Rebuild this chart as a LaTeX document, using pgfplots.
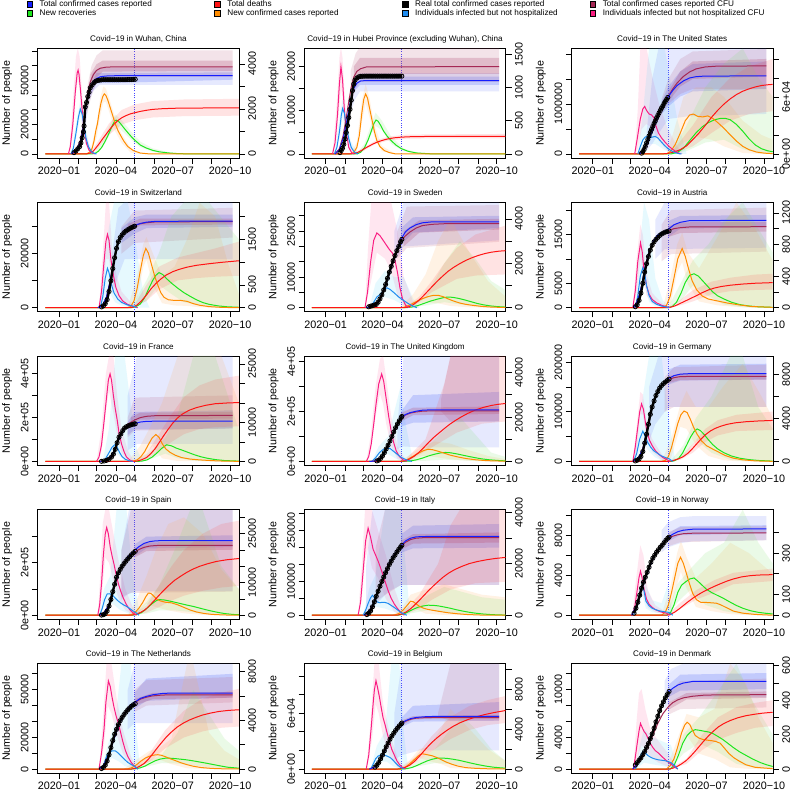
\documentclass[border=0pt]{standalone}
\usepackage{pgfplots}
\pgfplotsset{compat=1.18}
\usepackage{fontspec}
\setmainfont{Liberation Sans}
\newcommand\tickfont{\fontsize{10.8bp}{12bp}\selectfont}
\newcommand\titlefont{\fontsize{8.1bp}{9bp}\selectfont}
\newcommand\labfont{\fontsize{10.7bp}{12bp}\selectfont}
\newcommand\legfont{\fontsize{8.2bp}{9bp}\selectfont}
\definecolor{blueL}{RGB}{20,30,255}
\definecolor{maroonL}{RGB}{165,40,85}
\definecolor{pinkL}{RGB}{250,30,130}
\definecolor{cyanL}{RGB}{30,140,240}
\definecolor{greenL}{RGB}{30,230,30}
\definecolor{orangeL}{RGB}{255,140,0}
\definecolor{redL}{RGB}{255,20,20}
\definecolor{blueB}{RGB}{90,110,250}
\definecolor{maroonB}{RGB}{175,70,110}
\definecolor{pinkB}{RGB}{255,90,160}
\definecolor{cyanB}{RGB}{90,215,250}
\definecolor{orangeB}{RGB}{255,170,80}
\definecolor{greenB}{RGB}{120,225,100}
\definecolor{redB}{RGB}{255,70,70}
\definecolor{dotB}{RGB}{70,70,255}
\pgfplotsset{
 every axis title/.style={at={(0.5,1)}, anchor=base, yshift=6.8bp, font=\titlefont},
 pbase/.style={scale only axis, width=201.5bp, height=109.5bp, xmin=-34.2, xmax=288.5, anchor=south west},
 lft/.style={pbase, scaled y ticks=false, axis line style={line width=0.75bp}, tick style={line width=0.75bp, black}, tick align=outside, major tick length=5.7bp,
  xtick pos=left, ytick pos=left, xtick={0,31,60,91,121,152,182,213,244,274},
  xticklabels={2020−01,,,2020−04,,,2020−07,,,2020−10}, xticklabel style={font=\tickfont},
  yticklabel style={font=\tickfont, rotate=90, anchor=south},
  ylabel={Number of people}, ylabel style={font=\labfont, at={(axis description cs:-0.152,0.5)}, anchor=center},
  extra x ticks={121}, extra x tick labels={}, extra x tick style={grid=major, major tick length=0pt, major grid style={draw=dotB, dash pattern=on 0.8bp off 1.5bp, line width=0.7bp}}},
 rgt/.style={pbase, scaled y ticks=false, axis x line=none, axis y line*=right, axis line style={line width=0.75bp}, tick style={line width=0.75bp, black}, tick align=outside, major tick length=5.7bp,
  yticklabel style={font=\tickfont, rotate=90, anchor=north}},
 ovl/.style={pbase, hide axis},
 bnd/.style={draw=none, fill=#1, fill opacity=0.15, forget plot},
 bndd/.style={draw=none, fill=#1, fill opacity=0.25, forget plot},
 ln/.style={draw=#1, line width=1bp, mark=none, forget plot},
 blk/.style={draw=black, line width=2.4bp, mark=o, mark size=2.1bp, mark options={line width=0.8bp, solid}, forget plot},
 sq/.style={legend image code/.code={\draw[fill=#1, draw=black, line width=0.4bp] (0bp,-2.85bp) rectangle (5.7bp,2.85bp);}},
}
\newcommand\lent[1]{\addlegendentry{\makebox[181.6bp][l]{\hspace{7bp}#1}}}
\begin{document}
\begin{tikzpicture}
\useasboundingbox (0,0) rectangle (792bp,792bp);
\fill[white] (0,0) rectangle (792bp,792bp);
% ===== P1 Wuhan
\begin{axis}[lft, at={(37.7bp,634bp)}, title={Covid−19 in Wuhan, China}, ymin=-2762, ymax=71730, ytick={0,10000,...,70000}, yticklabels={0,,20000,,,50000,,},
 legend columns=4, legend cell align=left,
 legend style={at={(axis description cs:-0.056,1.44)}, anchor=north west, draw=none, fill=none, inner sep=0pt, row sep=1.2bp, nodes={inner sep=0pt, font=\legfont}}]
\addlegendimage{sq=blueL}\lent{Total confirmed cases reported}
\addlegendimage{sq=redL}\lent{Total deaths}
\addlegendimage{sq=black}\lent{Real total confirmed cases reported}
\addlegendimage{sq=maroonL}\lent{Total confirmed cases reported CFU}
\addlegendimage{sq=greenL}\lent{New recoveries}
\addlegendimage{sq=orangeL}\lent{New confirmed cases reported}
\addlegendimage{sq=cyanL}\lent{Individuals infected but not hospitalized}
\addlegendimage{sq=pinkL}\lent{Individuals infected but not hospitalized CFU}
\addplot[bnd=pinkB] coordinates {(16,0)(22,35000)(27,66000)(30,72000)(33,66000)(37,40000)(42,15000)(50,3000)(58,0)(50,1000)(42,7000)(37,22000)(33,45000)(30,50000)(27,42000)(22,12000)} -- cycle;
\addplot[bnd=cyanB] coordinates {(19,0)(27,20000)(34,36000)(40,24000)(48,7000)(58,0)(48,3000)(40,15000)(34,26000)(27,10000)} -- cycle;
\addplot[bnd=blueB] coordinates {(40,25000)(48,48000)(55,56000)(65,58500)(278,58500)(278,47000)(65,47000)(55,43000)(48,35000)(40,12000)} -- cycle;
\addplot[bndd=blueB] coordinates {(48,45000)(60,55000)(278,55500)(278,50500)(60,48000)(48,38000)} -- cycle;
\addplot[bnd=maroonB] coordinates {(45,45000)(52,60000)(60,67000)(70,70500)(278,70500)(278,52500)(70,52500)(60,48000)(52,40000)(45,28000)} -- cycle;
\addplot[bndd=maroonB] coordinates {(50,54000)(60,61000)(70,63500)(278,63500)(278,56500)(70,56000)(60,52000)(50,45000)} -- cycle;
\end{axis}
\begin{axis}[rgt, at={(37.7bp,634bp)}, ymin=-180, ymax=4686, ytick={0,1000,...,4000}, yticklabels={0,,2000,,4000}]
\addplot[bnd=orangeB] coordinates {(50,100)(60,1300)(66,2500)(71,3000)(75,2900)(80,2500)(90,1600)(100,900)(115,250)(130,0)(115,50)(100,500)(90,1000)(80,1900)(75,2300)(71,2300)(66,1700)(60,700)(50,0)} -- cycle;
\addplot[bnd=greenB] coordinates {(55,0)(70,600)(80,1200)(90,1750)(100,1500)(115,1000)(130,550)(150,250)(180,50)(210,0)(180,0)(150,100)(130,300)(115,650)(100,1050)(90,1300)(80,800)(70,300)} -- cycle;
\addplot[bnd=redB] coordinates {(50,100)(60,450)(80,1350)(100,1950)(121,2200)(150,2350)(200,2420)(288,2450)(288,1700)(200,1680)(150,1620)(121,1500)(100,1300)(80,850)(60,200)(50,0)} -- cycle;
\addplot[ln=greenL] coordinates {(-22,0)(52,0)(58,30)(63,120)(68,280)(73,520)(78,800)(82,1050)(86,1300)(89.5,1480)(92,1500)(95,1460)(99,1330)(104,1150)(110,950)(116,760)(121,620)(130,400)(140,260)(150,160)(160,95)(175,45)(190,15)(210,0)(288,0)};
\addplot[ln=orangeL] coordinates {(-22,0)(44,0)(50,100)(53,250)(56,580)(59,1050)(61.5,1350)(64,1800)(67,2250)(70,2550)(72.5,2670)(75,2600)(78,2400)(82,2050)(86,1700)(90,1330)(95,1000)(100,750)(104,560)(110,330)(119,150)(130,40)(145,0)(288,0)};
\addplot[ln=redL] coordinates {(-22,0)(44,0)(50,40)(55,130)(60,300)(65,480)(70,680)(76,900)(82,1120)(88,1320)(94,1480)(100,1600)(107,1700)(114,1780)(121,1830)(130,1890)(140,1940)(150,1980)(165,2010)(185,2030)(220,2040)(288,2050)};
\end{axis}
\begin{axis}[ovl, at={(37.7bp,634bp)}, ymin=-2762, ymax=71730]
\addplot[ln=pinkL] coordinates {(15,0)(18,5000)(22,20000)(26,42000)(29,55000)(30.5,57000)(32,54000)(34,45000)(37,30000)(40,17000)(44,7000)(48,2500)(53,600)(58,0)};
\addplot[ln=cyanL] coordinates {(19,0)(23,4000)(27,14000)(31,25000)(34,30500)(37,27000)(40,19000)(43,11000)(47,5000)(52,1500)(57,300)(60,0)};
\addplot[ln=maroonL] coordinates {(20,0)(28,3000)(34,9000)(38,18000)(42,31000)(46,42000)(50,49000)(55,54000)(60,56800)(66,58300)(75,59000)(90,59300)(278,59300)};
\addplot[ln=blueL] coordinates {(20,0)(28,2500)(34,8000)(38,16000)(42,29000)(46,39000)(50,45000)(55,49000)(60,51300)(66,52500)(75,53000)(90,53200)(278,53200)};
\addplot[blk] coordinates {(24,900)(27,2000)(30,3500)(33,5000)(35,7500)(37,11000)(39,15000)(40,19000)(42,32000)(44,35000)(46,39000)(48,42000)(50,45000)(53,47000)(56,48500)(59,49500)(62,50000)(65,50200)(68,50400)(71,50500)(74,50500)(77,50500)(80,50500)(83,50500)(86,50500)(89,50500)(92,50500)(95,50500)(98,50500)(101,50500)(104,50500)(107,50500)(110,50600)(113,50600)(116,50600)(119,50700)(122,50800)};
\end{axis}
% ===== P2 Hubei
\begin{axis}[lft, at={(304.3bp,634bp)}, title={Covid−19 in Hubei Province (excluding Wuhan), China}, ymin=-929, ymax=24130, ytick={0,5000,...,20000}, yticklabels={0,,10000,,20000}]
\addplot[bnd=pinkB] coordinates {(11,0)(18,12000)(22,22000)(24.5,24500)(27,22000)(31,12000)(37,3000)(46,0)(37,800)(31,7000)(27,13000)(24.5,15000)(22,11000)(18,5000)} -- cycle;
\addplot[bnd=cyanB] coordinates {(14,0)(22,8000)(27,12500)(32,9000)(40,3000)(52,0)(40,1000)(32,6000)(27,8500)(22,3500)} -- cycle;
\addplot[bnd=blueB] coordinates {(40,15000)(47,17500)(55,18500)(278,18500)(278,14300)(55,14300)(47,12500)(40,9500)} -- cycle;
\addplot[bndd=blueB] coordinates {(47,16800)(55,17700)(278,17700)(278,15800)(55,15800)(47,14500)} -- cycle;
\addplot[bnd=maroonB] coordinates {(40,19000)(48,23000)(55,24500)(278,24500)(278,16500)(55,16500)(48,15000)(40,11000)} -- cycle;
\addplot[bndd=maroonB] coordinates {(45,20000)(55,22000)(278,22000)(278,18300)(55,18300)(45,16000)} -- cycle;
\end{axis}
\begin{axis}[rgt, at={(304.3bp,634bp)}, ymin=-61, ymax=1583, ytick={0,500,...,1500}, yticklabels={0,500,1000,1500}]
\addplot[bnd=orangeB] coordinates {(40,0)(50,180)(58,800)(64,1050)(70,850)(78,430)(90,120)(112,0)(90,40)(78,260)(70,560)(64,760)(58,480)(50,40)} -- cycle;
\addplot[bnd=greenB] coordinates {(50,0)(62,150)(72,420)(80,620)(90,500)(105,260)(125,80)(150,10)(180,0)(150,0)(125,40)(105,150)(90,360)(80,420)(72,280)(62,50)} -- cycle;
\addplot[bnd=redB] coordinates {(45,10)(60,90)(80,200)(100,260)(130,290)(200,295)(288,300)(288,235)(200,235)(130,230)(100,200)(80,150)(60,45)(45,0)} -- cycle;
\addplot[ln=greenL] coordinates {(-22,0)(50,0)(56,25)(62,90)(68,210)(73,340)(77,450)(80.6,510)(84,490)(88,430)(93,340)(99,260)(106,190)(113,130)(121,80)(132,40)(145,15)(165,3)(180,0)(288,0)};
\addplot[ln=orangeL] coordinates {(-22,0)(38,0)(45,20)(50,100)(54,280)(58,620)(61,820)(64,900)(67,840)(70,700)(74,520)(78,340)(82,200)(87,110)(94,50)(102,20)(112,0)(288,0)};
\addplot[ln=redL] coordinates {(-22,0)(38,0)(45,5)(52,25)(58,55)(64,90)(70,120)(76,150)(82,175)(88,195)(95,215)(102,230)(110,242)(121,252)(135,258)(160,262)(200,264)(288,265)};
\end{axis}
\begin{axis}[ovl, at={(304.3bp,634bp)}, ymin=-929, ymax=24130]
\addplot[ln=pinkL] coordinates {(11,0)(15,2500)(19,9000)(22,16000)(24.5,20000)(27,17000)(30,10000)(33,5000)(37,1500)(42,200)(46,0)};
\addplot[ln=cyanL] coordinates {(14,0)(18,1500)(22,5000)(25,8800)(27.2,10400)(30,9300)(33,6500)(37,3500)(41,1500)(46,400)(52,0)};
\addplot[ln=maroonL] coordinates {(15,0)(22,1200)(28,4200)(33,8300)(37,12000)(41,15300)(45,17600)(50,18900)(56,19500)(65,19900)(278,20000)};
\addplot[ln=blueL] coordinates {(15,0)(22,1000)(28,3500)(33,7000)(37,10000)(41,13000)(45,15000)(50,16200)(56,16700)(65,16800)(278,16800)};
\addplot[blk] coordinates {(23,300)(25,800)(27,1300)(29,2200)(31,3400)(33,4900)(35,6500)(37,8300)(39,10200)(41,12300)(43,14500)(45,16000)(47,16900)(50,17400)(53,17650)(56,17750)(59,17780)(62,17800)(65,17800)(68,17800)(71,17800)(74,17800)(77,17800)(80,17800)(83,17800)(86,17800)(89,17800)(92,17800)(95,17800)(98,17800)(101,17800)(104,17800)(107,17800)(110,17800)(113,17800)(116,17800)(119,17800)(122,17800)};
\end{axis}
% ===== P3 US
\begin{axis}[lft, at={(571.5bp,634bp)}, title={Covid−19 in The United States}, ymin=-81200, ymax=2109000, ytick={0,500000,...,2000000}, yticklabels={0,,1000000,,}]
\addplot[bnd=pinkB] coordinates {(67,0)(72,900000)(76,2109000)(86,2109000)(96,1500000)(106,1000000)(120,500000)(135,150000)(145,0)(135,0)(120,60000)(106,250000)(96,500000)(86,600000)(78,500000)(72,100000)} -- cycle;
\addplot[bnd=cyanB] coordinates {(72,0)(80,800000)(90,2109000)(115,2109000)(125,1400000)(135,700000)(150,0)(135,0)(125,20000)(115,80000)(100,200000)(85,200000)(78,50000)} -- cycle;
\addplot[bnd=blueB] coordinates {(85,300000)(95,1500000)(105,2109000)(278,2109000)(278,800000)(150,750000)(121,700000)(105,400000)(95,200000)(85,50000)} -- cycle;
\addplot[bndd=blueB] coordinates {(110,1050000)(121,1350000)(140,1650000)(160,1800000)(278,1850000)(278,1300000)(160,1250000)(140,1150000)(121,950000)(110,800000)} -- cycle;
\addplot[bnd=maroonB] coordinates {(110,1100000)(121,1500000)(140,1900000)(160,2050000)(278,2100000)(278,1300000)(160,1300000)(140,1200000)(121,1000000)(110,800000)} -- cycle;
\addplot[bndd=maroonB] coordinates {(121,1250000)(140,1650000)(160,1850000)(278,1900000)(278,1550000)(160,1500000)(140,1350000)(121,1050000)} -- cycle;
\end{axis}
\begin{axis}[rgt, at={(571.5bp,634bp)}, ymin=-4274, ymax=111000, ytick={0,20000,...,100000}, yticklabels={0e+00,,,6e+04,,}]
\addplot[bnd=orangeB] coordinates {(118,0)(130,25000)(145,60000)(165,70000)(190,70000)(210,60000)(240,35000)(270,20000)(288,15000)(288,0)(270,0)(240,1000)(210,8000)(190,15000)(165,18000)(145,12000)(130,2000)} -- cycle;
\addplot[bnd=greenB] coordinates {(125,0)(150,30000)(180,70000)(210,95000)(240,111000)(265,80000)(288,60000)(288,0)(265,1000)(240,5000)(210,15000)(180,12000)(150,3000)} -- cycle;
\addplot[bnd=redB] coordinates {(130,5000)(160,30000)(190,60000)(220,80000)(250,92000)(288,100000)(288,45000)(250,42000)(220,35000)(190,22000)(160,8000)(130,0)} -- cycle;
\addplot[ln=greenL] coordinates {(-22,0)(125,0)(135,1500)(145,6000)(155,14000)(165,22000)(175,28500)(185,33000)(195,36000)(205,37500)(212,37500)(220,36000)(230,31000)(240,24000)(250,16000)(260,9500)(270,5500)(280,3300)(288,2300)};
\addplot[ln=orangeL] coordinates {(-22,0)(118,0)(125,3000)(132,10000)(140,22000)(148,35000)(155,41000)(161,42000)(168,39500)(176,39000)(184,40000)(192,37500)(200,33000)(210,27000)(220,20000)(230,13500)(240,8000)(250,4500)(262,2000)(275,800)(288,300)};
\addplot[ln=redL] coordinates {(-22,0)(110,0)(120,500)(130,2000)(140,4500)(150,8500)(160,15000)(170,22000)(180,30000)(190,38500)(200,46000)(210,52500)(220,58000)(230,62500)(240,66000)(250,68500)(260,70500)(270,72000)(280,72800)(288,73200)};
\end{axis}
\begin{axis}[ovl, at={(571.5bp,634bp)}, ymin=-81200, ymax=2109000]
\addplot[ln=pinkL] coordinates {(67,0)(71,300000)(76,700000)(80,900000)(83,950000)(86,870000)(90,800000)(94,780000)(98,720000)(101,560000)(105,420000)(110,320000)(116,230000)(122,150000)(128,90000)(134,40000)(140,0)};
\addplot[ln=cyanL] coordinates {(72,0)(76,150000)(80,280000)(84,340000)(88,350000)(92,320000)(96,340000)(100,350000)(104,320000)(109,250000)(114,180000)(120,110000)(126,60000)(132,25000)(138,5000)(142,0)};
\addplot[ln=maroonL] coordinates {(75,0)(85,150000)(95,450000)(105,780000)(115,1060000)(121,1160000)(128,1300000)(135,1420000)(145,1550000)(155,1640000)(165,1700000)(180,1740000)(200,1757000)(278,1760000)};
\addplot[ln=blueL] coordinates {(75,0)(85,150000)(95,450000)(105,780000)(115,1050000)(121,1150000)(128,1270000)(135,1370000)(145,1460000)(155,1520000)(165,1545000)(180,1558000)(278,1560000)};
\addplot[blk] coordinates {(78,15000)(80,45000)(82,90000)(84,150000)(86,220000)(88,290000)(90,360000)(92,430000)(94,490000)(96,550000)(98,610000)(100,660000)(102,720000)(104,770000)(106,820000)(108,870000)(110,920000)(112,960000)(114,1010000)(116,1050000)(118,1090000)(120,1130000)};
\end{axis}
% ===== P4 Switzerland
\begin{axis}[lft, at={(37.7bp,480.2bp)}, title={Covid−19 in Switzerland}, ymin=-1503, ymax=39050, ytick={0,10000,...,30000}, yticklabels={0,,20000,}]
\addplot[bnd=pinkB] coordinates {(64,0)(70,20000)(75,39000)(80,39000)(85,22000)(92,12000)(100,6000)(115,2000)(126,0)(115,300)(100,1500)(92,4000)(85,10000)(80,18000)(75,18000)(70,5000)} -- cycle;
\addplot[bnd=cyanB] coordinates {(66,0)(74,20000)(80,30000)(88,39050)(110,39050)(122,25000)(135,5000)(145,0)(135,0)(122,100)(110,300)(100,800)(90,2000)(80,6000)(74,4000)} -- cycle;
\addplot[bnd=blueB] coordinates {(85,20000)(95,37000)(105,39050)(278,39050)(278,18000)(105,18000)(95,12000)(85,5000)} -- cycle;
\addplot[bndd=blueB] coordinates {(100,29500)(121,33500)(140,34500)(278,34500)(278,30000)(140,29500)(121,27500)(100,24000)} -- cycle;
\addplot[bnd=maroonB] coordinates {(100,30000)(121,36000)(278,37000)(278,26000)(121,24000)(100,20000)} -- cycle;
\addplot[bndd=maroonB] coordinates {(110,31000)(130,33000)(278,33000)(278,30800)(130,30500)(110,27500)} -- cycle;
\end{axis}
\begin{axis}[rgt, at={(37.7bp,480.2bp)}, ymin=-89, ymax=2312, ytick={0,500,...,2000}, yticklabels={0,500,,1500,}]
\addplot[bnd=orangeB] coordinates {(110,0)(125,700)(135,1400)(140,1550)(150,1200)(165,700)(185,900)(205,1500)(225,2300)(250,2000)(270,1000)(288,300)(288,0)(270,0)(250,0)(225,10)(205,40)(185,50)(165,100)(150,500)(140,1050)(135,900)(125,200)} -- cycle;
\addplot[bnd=greenB] coordinates {(115,0)(140,600)(160,1200)(180,2000)(200,2312)(240,2312)(270,1800)(288,1500)(288,0)(240,20)(200,120)(180,300)(160,500)(140,150)} -- cycle;
\addplot[bnd=redB] coordinates {(120,50)(140,500)(160,900)(190,1100)(220,1200)(250,1300)(288,1450)(288,700)(250,680)(220,650)(190,600)(160,400)(140,150)(120,0)} -- cycle;
\addplot[ln=greenL] coordinates {(-22,0)(115,0)(122,15)(130,80)(137,220)(144,430)(150,600)(155,710)(160,770)(166,730)(172,640)(180,540)(190,430)(200,330)(210,250)(220,175)(230,115)(240,75)(255,40)(270,20)(288,10)};
\addplot[ln=orangeL] coordinates {(-22,0)(110,0)(115,30)(120,150)(125,420)(130,800)(135,1150)(139,1300)(143,1200)(148,950)(153,700)(158,500)(163,330)(168,230)(175,175)(185,160)(195,160)(205,140)(215,90)(225,55)(240,25)(260,8)(288,0)};
\addplot[ln=redL] coordinates {(-22,0)(113,0)(118,10)(125,60)(132,150)(140,280)(147,410)(155,530)(163,630)(172,720)(182,790)(192,840)(205,890)(220,930)(240,965)(260,995)(288,1030)};
\end{axis}
\begin{axis}[ovl, at={(37.7bp,480.2bp)}, ymin=-1503, ymax=39050]
\addplot[ln=pinkL] coordinates {(64,0)(68,6000)(72,17000)(75,24500)(77.5,27200)(80,25000)(83,18000)(87,12000)(91,7500)(96,4500)(102,2500)(110,1200)(120,400)(126,0)};
\addplot[ln=cyanL] coordinates {(66,0)(70,4000)(74,11000)(77.5,14600)(80,13000)(84,8500)(88,5500)(94,3200)(100,2000)(110,1000)(120,500)(124,0)};
\addplot[ln=maroonL] coordinates {(62,0)(70,1000)(76,4000)(82,10000)(88,17500)(94,23500)(100,27000)(108,29000)(115,30000)(121,30400)(130,31100)(140,31500)(155,31800)(278,31900)};
\addplot[ln=blueL] coordinates {(62,0)(70,1000)(76,4000)(82,10000)(88,17500)(94,23500)(100,27000)(108,29000)(115,30000)(121,30500)(130,31200)(140,31700)(155,32000)(278,32100)};
\addplot[blk] coordinates {(68,300)(71,700)(74,1500)(77,3000)(80,6000)(83,10000)(86,14500)(89,18500)(92,22000)(95,24500)(98,26000)(101,27000)(104,27800)(107,28400)(110,28900)(113,29300)(116,29700)(119,30000)(121,30200)};
\end{axis}
% ===== P5 Sweden
\begin{axis}[lft, at={(304.3bp,480.2bp)}, title={Covid−19 in Sweden}, ymin=-1324, ymax=34390, ytick={0,5000,...,30000}, yticklabels={0,,10000,,,25000,}]
\addplot[bnd=pinkB] coordinates {(63,0)(68,20000)(73,34390)(105,34390)(115,25000)(125,10000)(140,2000)(150,0)(140,0)(125,500)(115,4000)(105,12000)(95,16000)(82,18000)(72,8000)} -- cycle;
\addplot[bnd=cyanB] coordinates {(70,0)(80,8000)(95,12000)(110,10000)(125,10000)(140,3000)(150,0)(140,0)(125,800)(110,2500)(95,3500)(80,1500)} -- cycle;
\addplot[bnd=blueB] coordinates {(110,25000)(125,34390)(278,34390)(278,22000)(125,20000)(110,15000)} -- cycle;
\addplot[bndd=blueB] coordinates {(121,26000)(140,29500)(278,30000)(278,26000)(140,24500)(121,20500)} -- cycle;
\addplot[bnd=maroonB] coordinates {(115,25000)(130,33000)(278,33500)(278,21500)(130,19500)(115,16000)} -- cycle;
\addplot[bndd=maroonB] coordinates {(125,25000)(150,28500)(278,29000)(278,25500)(150,24500)(125,20000)} -- cycle;
\end{axis}
\begin{axis}[rgt, at={(304.3bp,480.2bp)}, ymin=-183, ymax=4750, ytick={0,1000,...,4000}, yticklabels={0,,2000,,4000}]
\addplot[bnd=orangeB] coordinates {(118,0)(140,600)(160,1500)(180,3000)(200,4000)(230,2500)(260,1200)(288,500)(288,0)(260,0)(230,20)(200,80)(180,200)(160,250)(140,120)} -- cycle;
\addplot[bnd=greenB] coordinates {(128,0)(160,500)(190,2000)(215,3000)(240,2200)(265,1200)(288,800)(288,0)(265,10)(240,60)(215,150)(190,250)(160,100)} -- cycle;
\addplot[bnd=redB] coordinates {(130,50)(150,500)(170,1200)(190,2000)(210,2700)(240,3300)(288,3700)(288,1500)(240,1450)(210,1300)(190,1000)(170,700)(150,250)(130,0)} -- cycle;
\addplot[ln=greenL] coordinates {(-22,0)(128,0)(138,30)(148,100)(158,200)(168,300)(178,380)(188,450)(195,480)(203,470)(213,420)(223,350)(233,270)(243,190)(253,130)(263,85)(275,50)(288,30)};
\addplot[ln=orangeL] coordinates {(-22,0)(118,0)(125,20)(132,90)(140,200)(148,320)(156,420)(165,510)(173,560)(180,560)(188,500)(196,400)(205,300)(215,210)(225,150)(235,110)(250,60)(265,30)(288,10)};
\addplot[ln=redL] coordinates {(-22,0)(125,0)(132,30)(140,130)(148,300)(156,520)(164,760)(172,1000)(180,1230)(188,1440)(196,1640)(205,1820)(215,1990)(225,2140)(235,2260)(245,2360)(255,2440)(265,2500)(278,2550)(288,2570)};
\end{axis}
\begin{axis}[ovl, at={(304.3bp,480.2bp)}, ymin=-1324, ymax=34390]
\addplot[ln=pinkL] coordinates {(63,0)(67,5000)(72,15000)(77,22000)(82,24400)(87,23500)(92,22000)(97,20500)(102,19000)(107,17800)(111,15500)(115,11500)(119,6500)(123,3000)(128,800)(134,0)};
\addplot[ln=cyanL] coordinates {(70,0)(76,1500)(82,3500)(88,4500)(93,5800)(98,6500)(103,6000)(110,4800)(117,3500)(124,2500)(132,1400)(140,500)(146,0)};
\addplot[ln=maroonL] coordinates {(65,0)(75,600)(85,2000)(95,6500)(105,13000)(113,18500)(121,22000)(128,23500)(135,24700)(145,26000)(155,26800)(170,27200)(190,27400)(278,27400)};
\addplot[ln=blueL] coordinates {(65,0)(75,600)(85,2000)(95,6500)(105,13000)(113,18500)(121,22500)(128,24800)(135,26000)(145,27100)(155,27700)(170,28000)(278,28000)};
\addplot[blk] coordinates {(69,300)(72,500)(75,700)(78,900)(81,1100)(84,1800)(87,2900)(90,4200)(93,5800)(96,7600)(99,9600)(102,11600)(105,13500)(108,15300)(111,17000)(114,18600)(117,20000)(120,21500)(122,22300)};
\end{axis}
% ===== P6 Austria
\begin{axis}[lft, at={(571.5bp,480.2bp)}, title={Covid−19 in Austria}, ymin=-832, ymax=21600, ytick={0,5000,...,20000}, yticklabels={0,5000,,15000,}]
\addplot[bnd=pinkB] coordinates {(64,0)(70,10000)(76,17000)(80,15000)(86,7000)(95,3000)(110,1000)(124,0)(110,200)(95,900)(86,2500)(80,8000)(76,10000)(70,3000)} -- cycle;
\addplot[bnd=cyanB] coordinates {(68,0)(75,12000)(82,21600)(90,18000)(100,6000)(112,1500)(124,0)(112,100)(100,300)(90,1200)(82,5000)(75,3500)} -- cycle;
\addplot[bnd=blueB] coordinates {(100,18000)(115,21600)(278,21600)(278,12300)(115,12000)(100,10000)} -- cycle;
\addplot[bndd=blueB] coordinates {(121,17800)(140,18800)(278,19000)(278,16500)(140,16200)(121,14500)} -- cycle;
\addplot[bnd=maroonB] coordinates {(110,17000)(125,20000)(278,20500)(278,11500)(125,11000)(110,9500)} -- cycle;
\addplot[bndd=maroonB] coordinates {(121,16700)(140,17500)(278,17600)(278,15600)(140,15300)(121,14500)} -- cycle;
\end{axis}
\begin{axis}[rgt, at={(571.5bp,480.2bp)}, ymin=-51.4, ymax=1335, ytick={0,200,...,1200}, yticklabels={0,,400,,800,,1200}]
\addplot[bnd=orangeB] coordinates {(112,0)(125,400)(135,800)(143,950)(152,700)(170,500)(200,900)(230,1335)(260,1000)(288,600)(288,0)(260,0)(230,10)(200,30)(170,80)(152,300)(143,580)(135,450)(125,60)} -- cycle;
\addplot[bnd=greenB] coordinates {(120,0)(140,300)(160,600)(185,800)(210,1100)(240,1335)(265,1000)(288,700)(288,0)(265,0)(240,5)(210,40)(185,150)(160,280)(140,80)} -- cycle;
\addplot[bnd=redB] coordinates {(120,10)(140,100)(160,220)(190,330)(220,380)(260,420)(288,430)(288,230)(260,225)(220,210)(190,170)(160,80)(140,30)(120,0)} -- cycle;
\addplot[ln=greenL] coordinates {(-22,0)(120,0)(127,15)(134,70)(141,180)(148,320)(155,410)(162,430)(169,400)(176,340)(184,270)(192,200)(200,150)(210,110)(222,70)(235,40)(250,22)(265,12)(288,5)};
\addplot[ln=orangeL] coordinates {(-22,0)(112,0)(118,30)(124,150)(130,380)(136,620)(143,750)(148,650)(153,500)(159,340)(166,230)(175,150)(185,110)(200,85)(215,60)(235,35)(255,15)(288,5)};
\addplot[ln=redL] coordinates {(-22,0)(118,0)(124,5)(132,25)(140,55)(148,85)(156,115)(165,150)(175,190)(185,225)(195,250)(205,268)(220,285)(240,300)(260,310)(288,318)};
\end{axis}
\begin{axis}[ovl, at={(571.5bp,480.2bp)}, ymin=-832, ymax=21600]
\addplot[ln=pinkL] coordinates {(64,0)(68,3500)(72,9500)(76.3,13300)(79,11500)(82,7500)(86,4500)(90,2800)(95,1700)(102,1000)(110,500)(118,200)(124,0)};
\addplot[ln=cyanL] coordinates {(68,0)(72,2500)(76,6500)(80,8200)(83,7000)(86,4500)(90,2500)(95,1300)(102,700)(110,350)(118,150)(122,0)};
\addplot[ln=maroonL] coordinates {(65,0)(72,1500)(78,4500)(84,8500)(90,11500)(96,13400)(103,14600)(110,15200)(121,15800)(130,16200)(140,16400)(155,16550)(278,16600)};
\addplot[ln=blueL] coordinates {(65,0)(72,1500)(78,4500)(84,8500)(90,11500)(96,13500)(103,14800)(110,15400)(121,16100)(130,17000)(140,17500)(155,17850)(278,17900)};
\addplot[blk] coordinates {(68,200)(71,600)(74,1500)(77,3000)(80,5000)(83,7300)(86,9000)(89,10500)(92,11800)(95,12800)(98,13500)(101,14000)(104,14400)(107,14800)(110,15100)(113,15300)(116,15500)(119,15600)(122,15750)};
\end{axis}
% ===== P7 France
\begin{axis}[lft, at={(37.7bp,326.5bp)}, title={Covid−19 in France}, ymin=-18440, ymax=479000, ytick={0,100000,...,400000}, yticklabels={0e+00,,2e+05,,4e+05}]
\addplot[bnd=pinkB] coordinates {(60,0)(68,150000)(75,400000)(80,479000)(87,479000)(93,300000)(100,150000)(110,50000)(120,0)(110,5000)(100,40000)(93,120000)(87,220000)(80,320000)(75,230000)(68,50000)} -- cycle;
\addplot[bnd=cyanB] coordinates {(70,0)(80,150000)(90,479000)(105,479000)(115,250000)(125,50000)(135,0)(125,0)(115,500)(105,3000)(95,30000)(85,40000)(78,20000)} -- cycle;
\addplot[bnd=blueB] coordinates {(110,300000)(125,479000)(278,479000)(278,80000)(125,80000)(110,50000)} -- cycle;
\addplot[bndd=blueB] coordinates {(110,180000)(121,225000)(278,232000)(278,150000)(121,145000)(110,120000)} -- cycle;
\addplot[bnd=maroonB] coordinates {(110,200000)(121,290000)(278,300000)(278,150000)(121,140000)(110,110000)} -- cycle;
\addplot[bndd=maroonB] coordinates {(115,200000)(130,222000)(278,225000)(278,195000)(130,190000)(115,170000)} -- cycle;
\end{axis}
\begin{axis}[rgt, at={(37.7bp,326.5bp)}, ymin=-1041, ymax=27040, ytick={0,5000,...,25000}, yticklabels={0,,10000,,,25000}]
\addplot[bnd=orangeB] coordinates {(110,0)(130,4000)(150,10000)(165,15000)(190,27040)(260,27040)(288,15000)(288,0)(260,0)(190,100)(165,800)(150,4000)(130,300)} -- cycle;
\addplot[bnd=greenB] coordinates {(125,0)(150,3000)(170,6000)(190,12000)(215,27040)(250,27040)(288,8000)(288,0)(250,20)(215,200)(190,800)(170,2000)(150,800)} -- cycle;
\addplot[bnd=redB] coordinates {(120,50)(140,2000)(160,7000)(180,12000)(200,16500)(225,19500)(250,21000)(288,22000)(288,9000)(250,8800)(225,8300)(200,7000)(180,5000)(160,2500)(140,500)(120,0)} -- cycle;
\addplot[ln=greenL] coordinates {(-22,0)(125,0)(133,100)(141,400)(149,1100)(157,2200)(164,3300)(172,4270)(180,4000)(188,3400)(197,2900)(207,2300)(217,1700)(227,1200)(238,800)(250,480)(265,230)(288,80)};
\addplot[ln=orangeL] coordinates {(-22,0)(110,0)(118,100)(125,400)(131,1200)(137,2500)(143,4300)(149,6000)(155,6900)(160,6200)(165,4600)(171,3200)(178,2300)(186,1600)(196,1000)(210,600)(225,400)(245,200)(265,80)(288,30)};
\addplot[ln=redL] coordinates {(-22,0)(118,0)(125,100)(132,400)(140,1000)(147,2000)(154,3300)(161,5000)(168,6700)(175,8300)(182,9800)(190,11200)(198,12200)(208,13100)(220,13800)(235,14400)(250,14800)(270,15000)(288,15100)};
\end{axis}
\begin{axis}[ovl, at={(37.7bp,326.5bp)}, ymin=-18440, ymax=479000]
\addplot[ln=pinkL] coordinates {(60,0)(64,20000)(68,75000)(72,180000)(76,290000)(79,370000)(81.7,398000)(84,370000)(87,300000)(90,240000)(93,190000)(96,130000)(100,80000)(104,45000)(108,20000)(114,5000)(120,0)};
\addplot[ln=cyanL] coordinates {(70,0)(75,15000)(80,40000)(85,65000)(89.7,77000)(93,65000)(97,40000)(101,22000)(106,10000)(112,3000)(118,0)};
\addplot[ln=maroonL] coordinates {(65,0)(75,5000)(85,30000)(92,75000)(98,118000)(104,150000)(110,170000)(121,188000)(130,199000)(140,205000)(155,208000)(278,209000)};
\addplot[ln=blueL] coordinates {(65,0)(75,5000)(85,30000)(92,75000)(98,115000)(104,145000)(110,160000)(121,172000)(130,179000)(140,182000)(155,183000)(278,183000)};
\addplot[blk] coordinates {(68,500)(72,2000)(76,5000)(80,10000)(84,20000)(87,33000)(90,55000)(93,85000)(96,110000)(99,125000)(102,140000)(105,152000)(108,158000)(111,162000)(114,165000)(117,168000)(120,170000)(122,171000)};
\end{axis}
% ===== P8 UK
\begin{axis}[lft, at={(304.3bp,326.5bp)}, title={Covid−19 in The United Kingdom}, ymin=-16240, ymax=421800, ytick={0,100000,...,400000}, yticklabels={0e+00,,2e+05,,4e+05}]
\addplot[bnd=pinkB] coordinates {(65,0)(72,100000)(80,300000)(87,410000)(92,421800)(97,330000)(105,180000)(115,60000)(130,0)(115,10000)(105,60000)(97,150000)(92,230000)(87,270000)(80,180000)(72,40000)} -- cycle;
\addplot[bnd=cyanB] coordinates {(74,0)(85,60000)(100,100000)(110,200000)(120,300000)(128,150000)(140,0)(128,0)(120,2000)(110,15000)(100,30000)(85,20000)} -- cycle;
\addplot[bnd=blueB] coordinates {(115,150000)(125,421800)(278,421800)(278,56000)(150,56000)(125,60000)(115,50000)} -- cycle;
\addplot[bndd=blueB] coordinates {(121,200000)(140,265000)(278,278000)(278,160000)(140,155000)(121,140000)} -- cycle;
\addplot[bnd=maroonB] coordinates {(185,250000)(200,421800)(278,421800)(278,160000)(200,160000)(185,200000)} -- cycle;
\addplot[bndd=maroonB] coordinates {(121,195000)(140,215000)(278,220000)(278,190000)(140,185000)(121,160000)} -- cycle;
\end{axis}
\begin{axis}[rgt, at={(304.3bp,326.5bp)}, ymin=-1829, ymax=47500, ytick={0,10000,...,40000}, yticklabels={0,,20000,,40000}]
\addplot[bnd=orangeB] coordinates {(118,0)(135,3000)(155,7000)(175,9000)(200,8000)(230,5000)(260,2500)(288,1000)(288,0)(260,50)(230,300)(200,1000)(175,2000)(155,2500)(135,500)} -- cycle;
\addplot[bnd=greenB] coordinates {(125,0)(160,6000)(190,14000)(215,20000)(240,12000)(265,4000)(288,2000)(288,0)(265,50)(240,200)(215,500)(190,800)(160,300)} -- cycle;
\addplot[bnd=redB] coordinates {(130,1500)(160,10000)(190,35000)(200,47500)(288,47500)(288,18000)(250,17000)(210,13000)(180,8000)(150,3000)(130,0)} -- cycle;
\addplot[ln=greenL] coordinates {(-22,0)(125,0)(135,200)(145,700)(155,1500)(165,2500)(175,3300)(185,3900)(192,4050)(200,3900)(210,3400)(220,2800)(230,2200)(240,1650)(250,1150)(262,750)(275,450)(288,250)};
\addplot[ln=orangeL] coordinates {(-22,0)(118,0)(125,300)(133,1200)(141,2500)(149,3800)(157,4900)(164,5500)(171,5300)(180,4600)(190,3700)(200,2800)(212,2000)(225,1300)(240,750)(258,350)(288,100)};
\addplot[ln=redL] coordinates {(-22,0)(118,0)(125,200)(133,900)(141,2200)(149,4000)(157,6200)(165,8600)(173,10800)(181,12700)(190,14800)(199,16800)(208,18500)(218,20200)(228,21700)(240,23200)(252,24300)(265,25200)(278,25800)(288,26100)};
\end{axis}
\begin{axis}[ovl, at={(304.3bp,326.5bp)}, ymin=-16240, ymax=421800]
\addplot[ln=pinkL] coordinates {(65,0)(69,20000)(73,70000)(77,150000)(81,235000)(85,310000)(89.7,350000)(93,320000)(97,250000)(101,180000)(105,120000)(109,75000)(113,42000)(118,20000)(124,6000)(130,0)};
\addplot[ln=cyanL] coordinates {(74,0)(80,15000)(86,35000)(92,48000)(98,53000)(103,52000)(108,42000)(114,30000)(120,18000)(126,10000)(132,4000)(138,0)};
\addplot[ln=maroonL] coordinates {(70,0)(80,2000)(90,18000)(100,60000)(110,120000)(121,175000)(128,186000)(135,193000)(145,198000)(155,201000)(170,202500)(278,202600)};
\addplot[ln=blueL] coordinates {(70,0)(80,2000)(90,18000)(100,60000)(110,120000)(121,176000)(128,188000)(135,195000)(145,201000)(155,205000)(170,206500)(278,206500)};
\addplot[blk] coordinates {(82,2000)(85,5000)(88,12000)(91,22000)(94,35000)(97,50000)(100,65000)(103,82000)(106,100000)(109,118000)(112,135000)(115,150000)(118,163000)(121,176000)(122,180000)};
\end{axis}
% ===== P9 Germany
\begin{axis}[lft, at={(571.5bp,326.5bp)}, title={Covid−19 in Germany}, ymin=-8185, ymax=212600, ytick={0,50000,...,200000}, yticklabels={0,,100000,,200000}]
\addplot[bnd=pinkB] coordinates {(64,0)(70,70000)(76,140000)(80,135000)(86,80000)(95,45000)(110,15000)(124,0)(110,3000)(95,20000)(86,45000)(80,95000)(76,95000)(70,15000)} -- cycle;
\addplot[bnd=cyanB] coordinates {(65,0)(72,50000)(80,130000)(90,212600)(110,212600)(120,100000)(132,0)(120,0)(110,2000)(100,8000)(90,20000)(80,40000)(72,8000)} -- cycle;
\addplot[bnd=blueB] coordinates {(90,150000)(105,212600)(278,212600)(278,110000)(121,110000)(100,75000)(90,40000)} -- cycle;
\addplot[bndd=blueB] coordinates {(121,185000)(140,195000)(278,197000)(278,165000)(140,163000)(121,155000)} -- cycle;
\addplot[bnd=maroonB] coordinates {(115,170000)(130,190000)(278,195000)(278,110000)(130,110000)(115,100000)} -- cycle;
\addplot[bndd=maroonB] coordinates {(121,172000)(140,177000)(278,178000)(278,165000)(140,164000)(121,158000)} -- cycle;
\end{axis}
\begin{axis}[rgt, at={(571.5bp,326.5bp)}, ymin=-374, ymax=9720, ytick={0,2000,...,8000}, yticklabels={0,,4000,,8000}]
\addplot[bnd=orangeB] coordinates {(110,0)(125,2000)(140,5200)(150,6500)(165,5000)(185,5000)(210,7000)(240,9000)(270,6000)(288,4000)(288,0)(270,0)(240,10)(210,100)(185,500)(165,1500)(150,3000)(140,3200)(125,300)} -- cycle;
\addplot[bnd=greenB] coordinates {(124,0)(145,1500)(165,4000)(190,6000)(220,9720)(240,9720)(265,5000)(288,3000)(288,0)(265,10)(240,40)(220,150)(190,800)(165,2000)(145,400)} -- cycle;
\addplot[bnd=redB] coordinates {(120,20)(140,400)(160,1600)(180,3000)(200,3800)(230,4300)(288,4600)(288,2900)(230,2800)(200,2400)(180,1800)(160,800)(140,150)(120,0)} -- cycle;
\addplot[ln=greenL] coordinates {(-22,0)(124,0)(130,50)(137,250)(144,800)(151,1600)(157,2300)(162,2750)(167,3000)(172,2850)(178,2500)(185,2000)(192,1550)(200,1150)(210,800)(222,500)(235,300)(250,170)(265,90)(288,30)};
\addplot[ln=orangeL] coordinates {(-22,0)(110,0)(116,100)(121,450)(126,1300)(131,2400)(136,3500)(141,4300)(146,4650)(151,4500)(156,3900)(161,3200)(167,2500)(174,1900)(182,1450)(190,1200)(200,900)(212,550)(225,300)(240,150)(260,50)(288,10)};
\addplot[ln=redL] coordinates {(-22,0)(118,0)(124,30)(131,120)(138,260)(145,450)(152,750)(159,1150)(166,1600)(173,2050)(180,2450)(188,2800)(196,3050)(205,3250)(215,3420)(228,3560)(245,3660)(265,3730)(288,3780)};
\end{axis}
\begin{axis}[ovl, at={(571.5bp,326.5bp)}, ymin=-8185, ymax=212600]
\addplot[ln=pinkL] coordinates {(64,0)(68,30000)(72,70000)(75,100000)(78,116000)(81,105000)(84,80000)(87,58000)(91,42000)(95,32000)(100,22000)(106,14000)(112,8000)(118,4000)(124,0)};
\addplot[ln=cyanL] coordinates {(65,0)(70,15000)(75,45000)(80,61000)(84,50000)(88,38000)(93,28000)(98,21000)(104,16000)(110,11000)(116,8000)(122,5500)(128,0)};
\addplot[ln=maroonL] coordinates {(64,0)(72,5000)(80,25000)(88,70000)(95,110000)(102,136000)(110,152000)(121,165000)(130,169000)(140,171000)(155,171400)(278,171500)};
\addplot[ln=blueL] coordinates {(64,0)(72,5000)(80,25000)(88,70000)(95,110000)(102,137000)(110,154000)(121,167000)(130,173000)(140,176000)(155,177000)(278,177000)};
\addplot[blk] coordinates {(68,1000)(71,2500)(74,5000)(77,10000)(80,20000)(83,37000)(86,55000)(89,75000)(92,95000)(95,110000)(98,122000)(101,133000)(104,141000)(107,148000)(110,153000)(113,157000)(116,160000)(119,163000)(122,166000)};
\end{axis}
% ===== P10 Spain
\begin{axis}[lft, at={(37.7bp,172.7bp)}, title={Covid−19 in Spain}, ymin=-15490, ymax=402400, ytick={0,100000,...,300000}, yticklabels={0e+00,,2e+05,}]
\addplot[bnd=pinkB] coordinates {(62,0)(66,150000)(70,350000)(74,402400)(80,402400)(88,300000)(96,200000)(106,100000)(118,30000)(128,0)(118,2000)(106,20000)(96,60000)(88,120000)(80,200000)(74,220000)(70,120000)(66,20000)} -- cycle;
\addplot[bnd=cyanB] coordinates {(65,0)(72,100000)(82,150000)(92,402400)(108,402400)(118,150000)(130,0)(118,0)(108,10000)(98,20000)(88,40000)(80,50000)(72,30000)} -- cycle;
\addplot[bnd=blueB] coordinates {(100,250000)(112,402400)(278,402400)(278,92000)(121,92000)(110,80000)(100,60000)} -- cycle;
\addplot[bndd=blueB] coordinates {(121,270000)(140,300000)(278,305000)(278,260000)(140,255000)(121,225000)} -- cycle;
\addplot[bnd=maroonB] coordinates {(100,250000)(115,402400)(278,402400)(278,90000)(115,85000)(100,70000)} -- cycle;
\addplot[bndd=maroonB] coordinates {(121,255000)(140,278000)(278,282000)(278,250000)(140,245000)(121,220000)} -- cycle;
\end{axis}
\begin{axis}[rgt, at={(37.7bp,172.7bp)}, ymin=-1245, ymax=32340, ytick={0,5000,...,30000}, yticklabels={0,,10000,,,25000,}]
\addplot[bnd=orangeB] coordinates {(110,0)(125,5000)(140,12000)(155,20000)(175,28000)(200,30000)(230,25000)(260,14000)(288,8000)(288,0)(260,0)(230,100)(200,600)(175,1500)(155,2500)(140,3500)(125,300)} -- cycle;
\addplot[bnd=greenB] coordinates {(116,0)(140,4000)(160,9000)(185,20000)(210,32340)(230,32340)(260,15000)(288,8000)(288,0)(260,100)(230,500)(210,1000)(185,1500)(160,1500)(140,500)} -- cycle;
\addplot[bnd=redB] coordinates {(118,200)(140,3000)(160,9000)(180,15000)(200,20000)(230,25000)(260,28000)(288,29000)(288,9000)(260,8500)(230,7500)(200,6000)(180,4500)(160,2500)(140,800)(118,0)} -- cycle;
\addplot[ln=greenL] coordinates {(-22,0)(116,0)(124,200)(132,800)(140,2000)(148,3400)(155,4400)(160,4800)(168,4700)(176,4400)(184,4050)(194,3600)(205,3100)(215,2700)(225,2200)(235,1700)(245,1250)(255,850)(265,520)(278,250)(288,150)};
\addplot[ln=orangeL] coordinates {(-22,0)(110,0)(116,200)(122,900)(128,2200)(134,3900)(139,5700)(143,6800)(147,6700)(151,6000)(156,5000)(162,4400)(170,4000)(180,3800)(190,3200)(200,2400)(210,1600)(220,1000)(232,550)(245,250)(265,80)(288,20)};
\addplot[ln=redL] coordinates {(-22,0)(113,0)(118,80)(124,350)(131,900)(138,1700)(145,3000)(152,4400)(160,6100)(168,7700)(176,9200)(185,10700)(195,12000)(205,13200)(215,14200)(225,15000)(238,15800)(252,16500)(268,17000)(288,17400)};
\end{axis}
\begin{axis}[ovl, at={(37.7bp,172.7bp)}, ymin=-15490, ymax=402400]
\addplot[ln=pinkL] coordinates {(62,0)(65,40000)(68,120000)(71,230000)(74,310000)(76.3,335000)(79,310000)(82,260000)(85,225000)(88,195000)(91,160000)(95,120000)(99,90000)(103,65000)(108,40000)(113,22000)(118,10000)(124,0)};
\addplot[ln=cyanL] coordinates {(65,0)(69,25000)(73,60000)(77,81000)(81,82000)(85,78000)(89,68000)(93,58000)(98,48000)(103,40000)(108,34000)(113,26000)(118,17000)(122,12000)(128,0)};
\addplot[ln=maroonL] coordinates {(64,0)(72,10000)(80,40000)(88,110000)(96,165000)(104,198000)(112,224000)(121,240000)(128,251000)(136,259000)(145,264000)(155,266000)(170,267000)(278,267000)};
\addplot[ln=blueL] coordinates {(64,0)(72,10000)(80,40000)(88,110000)(96,165000)(104,200000)(112,228000)(121,248000)(128,262000)(136,274000)(145,281000)(155,284000)(170,285000)(278,285000)};
\addplot[blk] coordinates {(68,500)(71,2000)(74,6000)(77,16000)(80,35000)(83,60000)(86,90000)(89,118000)(92,145000)(95,162000)(98,175000)(101,187000)(104,197000)(107,206000)(110,215000)(113,223000)(116,231000)(119,238000)(122,244000)};
\end{axis}
% ===== P11 Italy
\begin{axis}[lft, at={(304.3bp,172.7bp)}, title={Covid−19 in Italy}, ymin=-12010, ymax=312000, ytick={0,50000,...,300000}, yticklabels={0,,100000,,,250000,}]
\addplot[bnd=pinkB] coordinates {(52,0)(58,150000)(63,312000)(74,312000)(84,250000)(96,180000)(110,80000)(125,0)(110,10000)(96,50000)(84,110000)(74,140000)(68,200000)(63,160000)(58,60000)} -- cycle;
\addplot[bnd=cyanB] coordinates {(60,0)(70,80000)(80,120000)(95,312000)(120,312000)(128,150000)(135,0)(128,0)(120,1000)(110,10000)(95,20000)(80,25000)(70,20000)} -- cycle;
\addplot[bnd=blueB] coordinates {(65,150000)(75,312000)(278,312000)(278,90000)(121,90000)(100,70000)(85,40000)(75,20000)(65,5000)} -- cycle;
\addplot[bndd=blueB] coordinates {(121,240000)(140,265000)(278,270000)(278,200000)(140,198000)(121,185000)} -- cycle;
\addplot[bnd=maroonB] coordinates {(80,200000)(95,312000)(278,312000)(278,90000)(121,90000)(95,60000)(80,40000)} -- cycle;
\addplot[bndd=maroonB] coordinates {(121,220000)(140,240000)(278,245000)(278,215000)(140,212000)(121,195000)} -- cycle;
\end{axis}
\begin{axis}[rgt, at={(304.3bp,172.7bp)}, ymin=-1580, ymax=41030, ytick={0,10000,...,40000}, yticklabels={0,,20000,,40000}]
\addplot[bnd=orangeB] coordinates {(106,0)(120,2000)(136,8000)(160,10000)(190,12000)(220,10000)(250,8000)(288,7000)(288,0)(250,0)(220,20)(190,100)(160,600)(136,3500)(120,300)} -- cycle;
\addplot[bnd=greenB] coordinates {(112,0)(140,4000)(165,8000)(190,11000)(220,9000)(250,7000)(288,6000)(288,0)(250,50)(220,300)(190,1200)(165,2000)(140,900)} -- cycle;
\addplot[bnd=redB] coordinates {(120,300)(150,8000)(180,20000)(200,35000)(215,41030)(288,41030)(288,13000)(240,12500)(200,10000)(170,6000)(150,2500)(130,500)(120,0)} -- cycle;
\addplot[ln=greenL] coordinates {(-22,0)(112,0)(118,100)(125,500)(132,1300)(140,2300)(148,3100)(156,3600)(164,3900)(172,3850)(180,3650)(190,3200)(200,2700)(210,2100)(220,1600)(230,1150)(240,800)(252,480)(265,250)(278,120)(288,60)};
\addplot[ln=orangeL] coordinates {(-22,0)(106,0)(112,200)(118,800)(124,2000)(130,3700)(136,5450)(140,5300)(145,4400)(150,3500)(156,2800)(163,2300)(172,1900)(182,1500)(195,1000)(210,600)(225,300)(245,100)(265,30)(288,10)};
\addplot[ln=redL] coordinates {(-22,0)(110,0)(116,100)(122,500)(129,1300)(136,2500)(143,4100)(150,5800)(157,7600)(164,9400)(172,11300)(180,13100)(188,14800)(197,16400)(207,17800)(218,19000)(230,20100)(243,20900)(258,21600)(272,22100)(288,22500)};
\end{axis}
\begin{axis}[ovl, at={(304.3bp,172.7bp)}, ymin=-12010, ymax=312000]
\addplot[ln=pinkL] coordinates {(52,0)(56,40000)(60,130000)(64,220000)(68,258000)(72,230000)(76,195000)(80,178000)(84,160000)(88,140000)(92,118000)(96,95000)(100,73000)(105,50000)(110,33000)(115,20000)(120,9000)(126,0)};
\addplot[ln=cyanL] coordinates {(60,0)(64,15000)(68,35000)(72,52000)(75,59000)(78,52000)(82,40000)(86,37000)(90,38000)(95,38000)(100,35000)(105,29000)(110,23000)(115,16000)(120,9000)(126,3000)(130,0)};
\addplot[ln=maroonL] coordinates {(62,0)(70,12000)(78,40000)(86,80000)(94,120000)(102,155000)(110,180000)(121,205000)(128,216000)(136,224000)(145,228000)(160,230000)(278,230000)};
\addplot[ln=blueL] coordinates {(62,0)(70,12000)(78,40000)(86,80000)(94,120000)(102,155000)(110,180000)(121,207000)(128,220000)(136,228000)(145,232000)(160,233000)(278,233000)};
\addplot[blk] coordinates {(66,2000)(69,6000)(72,13000)(75,25000)(78,40000)(81,56000)(84,71000)(87,86000)(90,100000)(93,113000)(96,126000)(99,138000)(102,150000)(105,160000)(108,170000)(111,178000)(114,187000)(117,195000)(120,202000)(122,207000)};
\end{axis}
% ===== P12 Norway
\begin{axis}[lft, at={(571.5bp,172.7bp)}, title={Covid−19 in Norway}, ymin=-406, ymax=10540, ytick={0,2000,...,10000}, yticklabels={0,,4000,,8000,}]
\addplot[bnd=pinkB] coordinates {(63,0)(70,4000)(76,7000)(81,6000)(88,2500)(100,1000)(115,400)(124,0)(115,100)(100,300)(88,800)(81,2000)(76,2800)(70,1200)} -- cycle;
\addplot[bnd=cyanB] coordinates {(65,0)(72,2000)(79,4000)(85,3000)(95,1500)(110,1200)(120,3000)(128,0)(120,100)(110,200)(95,300)(85,700)(79,2000)(72,500)} -- cycle;
\addplot[bnd=blueB] coordinates {(110,8500)(121,9300)(140,9800)(160,9900)(278,9900)(278,7500)(160,7400)(140,7200)(121,6800)(110,6300)} -- cycle;
\addplot[bndd=blueB] coordinates {(121,8200)(140,8900)(278,9000)(278,8200)(140,8000)(121,7400)} -- cycle;
\addplot[bnd=maroonB] coordinates {(121,8300)(140,8800)(278,8900)(278,7500)(140,7300)(121,6900)} -- cycle;
\end{axis}
\begin{axis}[rgt, at={(571.5bp,172.7bp)}, ymin=-19.6, ymax=509, ytick={0,100,...,400}, yticklabels={0,100,,300,}]
\addplot[bnd=orangeB] coordinates {(110,0)(125,150)(135,300)(141,360)(150,280)(165,180)(190,250)(220,350)(250,300)(288,200)(288,0)(250,0)(220,5)(190,20)(165,40)(150,130)(141,210)(135,150)(125,40)} -- cycle;
\addplot[bnd=greenB] coordinates {(118,0)(135,150)(155,220)(180,300)(210,350)(240,509)(265,350)(288,250)(288,0)(265,0)(240,5)(210,20)(180,50)(155,120)(135,60)} -- cycle;
\addplot[bnd=redB] coordinates {(120,5)(140,60)(165,120)(195,170)(225,205)(288,225)(288,165)(225,150)(195,110)(165,75)(140,30)(120,0)} -- cycle;
\addplot[ln=greenL] coordinates {(-22,0)(118,0)(124,10)(130,50)(136,110)(142,145)(148,160)(155,175)(162,180)(168,165)(175,145)(182,125)(190,110)(200,95)(210,80)(220,63)(230,47)(240,34)(252,22)(265,14)(278,9)(288,6)};
\addplot[ln=orangeL] coordinates {(-22,0)(110,0)(116,15)(121,50)(126,110)(131,180)(136,250)(140.4,280)(145,250)(150,200)(155,150)(160,105)(166,75)(173,62)(180,62)(190,60)(198,58)(205,50)(215,35)(225,20)(240,10)(260,4)(288,0)};
\addplot[ln=redL] coordinates {(-22,0)(118,0)(124,4)(131,15)(138,30)(145,47)(152,64)(160,82)(168,98)(176,112)(185,126)(195,140)(205,153)(215,165)(225,175)(238,185)(252,191)(265,194)(278,195)(288,196)};
\end{axis}
\begin{axis}[ovl, at={(571.5bp,172.7bp)}, ymin=-406, ymax=10540]
\addplot[ln=pinkL] coordinates {(63,0)(67,800)(71,2500)(74,3800)(76.3,4400)(79,3700)(82,2600)(86,1600)(90,1100)(95,800)(100,570)(106,400)(112,280)(118,200)(124,0)};
\addplot[ln=cyanL] coordinates {(65,0)(69,600)(73,1600)(76,2500)(79,3070)(82,2400)(85,1400)(90,950)(95,700)(100,570)(106,450)(112,370)(118,320)(122,280)(128,0)};
\addplot[ln=maroonL] coordinates {(62,0)(70,1000)(78,2600)(86,4000)(94,5300)(102,6300)(110,7000)(121,7700)(128,7900)(136,8050)(145,8150)(160,8200)(278,8230)};
\addplot[ln=blueL] coordinates {(62,0)(70,1000)(78,2600)(86,4000)(94,5300)(102,6300)(110,7000)(121,7800)(128,8100)(136,8350)(145,8500)(160,8600)(278,8630)};
\addplot[blk] coordinates {(66,200)(69,700)(72,1300)(75,2000)(78,2700)(81,3300)(84,3800)(87,4300)(90,4800)(93,5300)(96,5700)(99,6000)(102,6300)(105,6550)(108,6800)(111,7000)(114,7250)(117,7500)(120,7700)(122,7800)};
\end{axis}
% ===== P13 Netherlands
\begin{axis}[lft, at={(37.7bp,18.9bp)}, title={Covid−19 in The Netherlands}, ymin=-2558, ymax=66440, ytick={0,10000,...,60000}, yticklabels={0,,20000,,,50000,}]
\addplot[bnd=pinkB] coordinates {(64,0)(70,30000)(76,66440)(84,66440)(92,45000)(102,25000)(115,8000)(126,0)(115,1500)(102,10000)(92,22000)(84,35000)(78,40000)(72,15000)} -- cycle;
\addplot[bnd=cyanB] coordinates {(68,0)(78,15000)(90,30000)(100,66440)(115,66440)(122,30000)(130,0)(122,0)(115,500)(105,2000)(95,5000)(85,7000)(76,4000)} -- cycle;
\addplot[bnd=blueB] coordinates {(110,50000)(121,66440)(278,66440)(278,29000)(121,29000)(110,25000)} -- cycle;
\addplot[bndd=blueB] coordinates {(121,48000)(140,57000)(278,60000)(278,45000)(140,43000)(121,38000)} -- cycle;
\addplot[bnd=maroonB] coordinates {(121,50000)(140,56000)(278,58000)(278,42000)(140,40000)(121,36000)} -- cycle;
\addplot[bndd=maroonB] coordinates {(121,44000)(150,48000)(278,48500)(278,45000)(150,44000)(121,40000)} -- cycle;
\end{axis}
\begin{axis}[rgt, at={(37.7bp,18.9bp)}, ymin=-334, ymax=8680, ytick={0,2000,...,8000}, yticklabels={0,,4000,,8000}]
\addplot[bnd=orangeB] coordinates {(104,0)(125,800)(145,1500)(160,1700)(180,2500)(205,8680)(215,8680)(240,3000)(265,1500)(288,800)(288,0)(265,0)(240,10)(205,60)(180,400)(160,800)(145,600)(125,150)} -- cycle;
\addplot[bnd=greenB] coordinates {(115,0)(140,600)(165,1200)(190,3000)(215,6500)(240,4500)(265,2500)(288,1500)(288,0)(265,30)(240,150)(215,300)(190,450)(165,500)(140,200)} -- cycle;
\addplot[bnd=redB] coordinates {(120,50)(145,1300)(170,3200)(200,4800)(230,5800)(260,6300)(288,6600)(288,3500)(260,3400)(230,3100)(200,2600)(170,1700)(145,600)(120,0)} -- cycle;
\addplot[ln=greenL] coordinates {(-22,0)(115,0)(122,20)(130,100)(138,250)(146,480)(154,680)(162,820)(170,890)(178,890)(186,860)(195,810)(204,760)(214,680)(224,590)(235,490)(246,380)(258,260)(270,150)(288,70)};
\addplot[ln=orangeL] coordinates {(-22,0)(104,0)(110,20)(117,120)(124,350)(131,650)(138,900)(145,1060)(152,1150)(158,1180)(164,1130)(171,1000)(178,850)(186,700)(195,520)(205,360)(215,230)(228,120)(245,50)(265,15)(288,5)};
\addplot[ln=redL] coordinates {(-22,0)(116,0)(122,60)(129,220)(136,450)(143,800)(150,1250)(157,1720)(164,2160)(172,2650)(180,3050)(189,3450)(198,3750)(208,4020)(219,4250)(230,4450)(242,4600)(256,4740)(272,4830)(288,4880)};
\end{axis}
\begin{axis}[ovl, at={(37.7bp,18.9bp)}, ymin=-2558, ymax=66440]
\addplot[ln=pinkL] coordinates {(64,0)(68,10000)(72,25000)(75,42000)(79,55500)(82,52000)(85,45000)(88,39000)(91,34000)(94,30000)(98,24000)(102,17500)(106,12000)(110,8000)(115,4500)(120,2000)(126,0)};
\addplot[ln=cyanL] coordinates {(68,0)(72,3000)(76,8000)(80,10500)(85,11500)(90,11500)(95,10000)(100,8000)(105,6000)(110,4200)(115,3000)(120,2000)(126,0)};
\addplot[ln=maroonL] coordinates {(64,0)(72,2500)(80,9500)(88,19000)(96,28000)(104,34500)(112,39000)(121,41800)(130,44000)(140,45300)(150,46100)(165,46600)(180,46800)(278,46800)};
\addplot[ln=blueL] coordinates {(64,0)(72,2500)(80,9500)(88,19000)(96,28000)(104,34500)(112,39000)(121,42000)(130,44500)(140,45800)(150,46800)(165,47600)(180,47900)(278,47900)};
\addplot[blk] coordinates {(68,300)(71,1000)(74,2500)(77,5000)(80,9000)(83,13500)(86,18000)(89,22000)(92,25000)(95,28000)(98,30500)(101,32500)(104,34300)(107,35800)(110,37300)(113,38500)(116,39600)(119,40500)(122,41200)};
\end{axis}
% ===== P14 Belgium
\begin{axis}[lft, at={(304.3bp,18.9bp)}, title={Covid−19 in Belgium}, ymin=-4366, ymax=113400, ytick={0,20000,...,100000}, yticklabels={0e+00,,,6e+04,,}]
\addplot[bnd=pinkB] coordinates {(65,0)(72,50000)(78,113400)(85,113400)(92,70000)(102,40000)(115,12000)(128,0)(115,2000)(102,15000)(92,35000)(85,60000)(80,70000)(74,30000)} -- cycle;
\addplot[bnd=cyanB] coordinates {(72,0)(82,25000)(95,40000)(105,113400)(118,113400)(125,40000)(132,0)(125,0)(118,300)(108,3000)(98,8000)(85,8000)(78,3000)} -- cycle;
\addplot[bnd=blueB] coordinates {(110,60000)(122,113400)(278,113400)(278,20000)(150,20000)(122,15000)(110,10000)} -- cycle;
\addplot[bndd=blueB] coordinates {(121,55000)(140,68000)(278,72000)(278,52000)(140,51000)(121,45000)} -- cycle;
\addplot[bnd=maroonB] coordinates {(180,60000)(200,113400)(278,113400)(278,52000)(200,52000)(180,56000)} -- cycle;
\addplot[bndd=maroonB] coordinates {(121,52000)(140,57000)(278,58000)(278,54000)(140,53500)(121,47000)} -- cycle;
\end{axis}
\begin{axis}[rgt, at={(304.3bp,18.9bp)}, ymin=-406, ymax=10540, ytick={0,2000,...,10000}, yticklabels={0,,4000,,8000,}]
\addplot[bnd=orangeB] coordinates {(116,0)(135,900)(150,2000)(165,2200)(185,4000)(200,6000)(230,4000)(260,2000)(288,800)(288,0)(260,0)(230,10)(200,100)(185,500)(165,800)(150,1100)(135,300)} -- cycle;
\addplot[bnd=greenB] coordinates {(122,0)(150,900)(175,2000)(200,4000)(220,5200)(240,4000)(265,2000)(288,800)(288,0)(265,20)(240,100)(220,300)(200,500)(175,600)(150,300)} -- cycle;
\addplot[bnd=redB] coordinates {(120,50)(145,1300)(170,3300)(200,5200)(230,6300)(260,6900)(288,7300)(288,4600)(260,4400)(230,3900)(200,3000)(170,1800)(145,700)(120,0)} -- cycle;
\addplot[ln=greenL] coordinates {(-22,0)(122,0)(130,40)(138,150)(146,350)(154,580)(162,800)(170,970)(178,1080)(186,1100)(195,1060)(204,980)(213,880)(223,740)(233,590)(244,440)(256,300)(268,190)(280,120)(288,90)};
\addplot[ln=orangeL] coordinates {(-22,0)(116,0)(122,50)(129,250)(136,600)(143,1000)(149,1350)(154,1530)(159,1480)(165,1400)(171,1320)(178,1150)(185,950)(193,700)(202,480)(212,290)(225,140)(240,70)(260,25)(288,5)};
\addplot[ln=redL] coordinates {(-22,0)(115,0)(121,40)(128,180)(135,400)(142,750)(149,1200)(156,1700)(163,2200)(170,2650)(178,3100)(186,3500)(195,3900)(205,4300)(216,4650)(228,4950)(240,5200)(255,5450)(270,5650)(288,5850)};
\end{axis}
\begin{axis}[ovl, at={(304.3bp,18.9bp)}, ymin=-4366, ymax=113400]
\addplot[ln=pinkL] coordinates {(65,0)(69,15000)(73,45000)(76,70000)(78,85000)(80.6,95000)(83,88000)(86,78000)(89,66000)(92,55000)(95,48000)(98,40000)(102,30000)(106,21000)(110,15000)(114,9000)(118,5000)(123,1500)(128,0)};
\addplot[ln=cyanL] coordinates {(72,0)(76,5000)(80,11000)(84,14000)(88,15000)(92,15400)(96,14500)(100,13500)(104,12000)(108,9500)(112,6500)(116,3800)(120,1800)(126,0)};
\addplot[ln=maroonL] coordinates {(70,0)(78,2000)(86,8000)(94,18000)(102,31000)(110,40000)(121,49000)(128,51500)(136,53500)(145,54700)(160,55300)(175,55500)(278,55500)};
\addplot[ln=blueL] coordinates {(70,0)(78,2000)(86,8000)(94,18000)(102,31000)(110,40000)(121,49000)(128,52000)(136,54200)(145,55500)(160,56300)(175,56600)(278,56600)};
\addplot[blk] coordinates {(79,2000)(82,4000)(85,7000)(88,11000)(91,15000)(94,19500)(97,24000)(100,28000)(103,32000)(106,35500)(109,38500)(112,41500)(115,44000)(118,46500)(121,48500)(122,49500)};
\end{axis}
% ===== P15 Denmark
\begin{axis}[lft, at={(571.5bp,18.9bp)}, title={Covid−19 in Denmark}, ymin=-507, ymax=13180, ytick={0,2000,...,12000}, yticklabels={0,,4000,,,10000,}]
\addplot[bnd=pinkB] coordinates {(65,0)(70,6000)(74,9500)(78,10000)(84,7500)(92,5000)(105,3500)(120,2000)(136,0)(120,300)(105,800)(92,1500)(84,2500)(78,3000)(72,1500)} -- cycle;
\addplot[bnd=cyanB] coordinates {(68,0)(75,3000)(82,5000)(95,4000)(110,3500)(125,3000)(136,0)(125,200)(110,400)(95,600)(82,800)(75,400)} -- cycle;
\addplot[bnd=blueB] coordinates {(115,11000)(125,12500)(145,13180)(278,13180)(278,9000)(145,9000)(125,8500)(115,7500)} -- cycle;
\addplot[bndd=blueB] coordinates {(121,10500)(140,11800)(278,12000)(278,10000)(140,9800)(121,9000)} -- cycle;
\addplot[bnd=maroonB] coordinates {(121,9500)(140,11000)(278,11300)(278,7700)(140,7500)(121,6800)} -- cycle;
\addplot[bndd=maroonB] coordinates {(121,8300)(150,9500)(278,9700)(278,8900)(150,8700)(121,7400)} -- cycle;
\end{axis}
\begin{axis}[rgt, at={(571.5bp,18.9bp)}, ymin=-23.6, ymax=613, ytick={0,100,...,600}, yticklabels={0,,200,,400,,600}]
\addplot[bnd=orangeB] coordinates {(118,0)(135,170)(150,320)(170,300)(195,350)(220,613)(245,500)(265,300)(288,150)(288,0)(265,0)(245,2)(220,10)(195,60)(170,90)(150,200)(135,80)} -- cycle;
\addplot[bnd=greenB] coordinates {(124,0)(145,200)(170,300)(200,450)(230,613)(255,400)(288,200)(288,0)(255,10)(230,30)(200,100)(170,150)(145,90)} -- cycle;
\addplot[bnd=redB] coordinates {(125,5)(150,60)(175,200)(200,300)(230,360)(260,385)(288,400)(288,250)(260,240)(230,210)(200,170)(175,110)(150,30)(125,0)} -- cycle;
\addplot[ln=greenL] coordinates {(-22,0)(124,0)(130,20)(137,80)(144,150)(151,195)(158,220)(164,229)(171,225)(178,220)(186,215)(193,205)(200,190)(208,172)(216,150)(225,125)(235,100)(245,80)(256,58)(268,38)(278,25)(288,15)};
\addplot[ln=orangeL] coordinates {(-22,0)(118,0)(124,20)(130,60)(136,130)(142,210)(147,255)(151,272)(155,260)(159,230)(164,195)(170,180)(176,172)(183,168)(190,165)(197,160)(204,150)(211,120)(218,90)(226,65)(235,45)(245,25)(260,10)(288,2)};
\addplot[ln=redL] coordinates {(-22,0)(122,0)(128,5)(135,15)(142,30)(149,48)(156,72)(163,100)(170,130)(177,160)(185,192)(193,220)(201,245)(210,265)(220,282)(232,298)(245,310)(258,318)(272,325)(288,330)};
\end{axis}
\begin{axis}[ovl, at={(571.5bp,18.9bp)}, ymin=-507, ymax=13180]
\addplot[ln=pinkL] coordinates {(65,0)(68,1500)(71,3200)(74,4800)(76.3,5700)(79,5200)(82,4700)(85,4400)(88,3900)(92,3200)(96,2700)(100,2300)(105,2000)(110,1600)(115,1250)(120,900)(126,550)(132,200)(136,0)};
\addplot[ln=cyanL] coordinates {(68,0)(72,700)(76,1600)(80,2200)(84,2000)(88,1700)(92,1500)(96,1350)(100,1250)(105,1150)(110,1100)(115,1050)(120,950)(125,800)(130,500)(136,0)};
\addplot[ln=maroonL] coordinates {(64,0)(72,700)(80,1600)(88,2800)(96,4200)(104,5700)(112,6900)(121,7800)(128,8300)(136,8650)(145,8900)(160,9100)(180,9250)(278,9300)};
\addplot[ln=blueL] coordinates {(64,0)(72,800)(80,1800)(88,3100)(96,4700)(104,6600)(112,8300)(121,9600)(128,10100)(136,10500)(145,10750)(160,10950)(278,10950)};
\addplot[blk] coordinates {(68,500)(71,800)(74,1100)(77,1400)(80,1800)(83,2200)(86,2700)(89,3200)(92,3800)(95,4400)(98,5100)(101,5900)(104,6600)(107,7300)(110,7900)(113,8400)(116,8900)(119,9300)(122,9700)};
\end{axis}
\end{tikzpicture}
\end{document}
